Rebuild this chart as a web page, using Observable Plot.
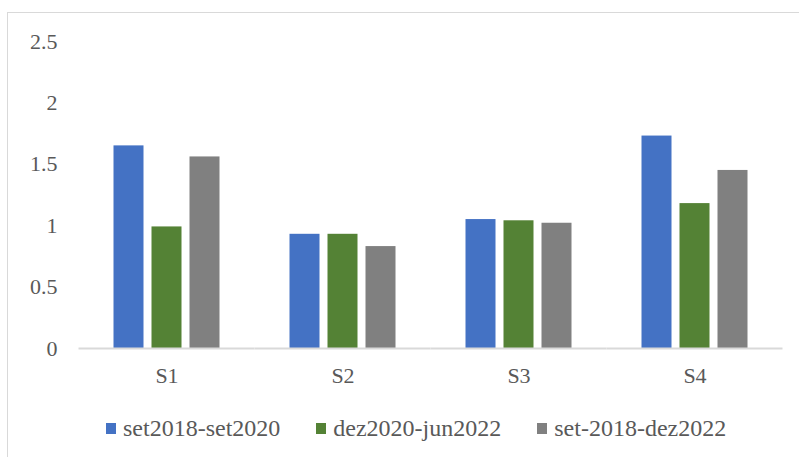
<!DOCTYPE html>
<html>
<head>
<meta charset="utf-8">
<script src="https://cdn.jsdelivr.net/npm/d3@7"></script>
<script src="https://cdn.jsdelivr.net/npm/@observablehq/plot@0.6"></script>
<style>
  html, body { margin: 0; padding: 0; background: #fff; overflow: hidden; width: 799px; height: 457px; }
  #frame { position: absolute; left: 7px; top: 12px; width: 900px; height: 600px; border: 1.5px solid #d9d9d9; box-sizing: border-box; }
  #chart { position: absolute; left: 0; top: 0; }
  #legend { position: absolute; left: 106px; top: 415px; display: flex; align-items: center; gap: 36px;
            font-family: "Liberation Serif", serif; font-size: 24px; color: #595959; line-height: 26px; white-space: nowrap; }
  .item { display: flex; align-items: center; }
  .sw { width: 10px; height: 11px; margin-right: 7px; display: inline-block; }
</style>
</head>
<body>
<div id="frame"></div>
<div id="chart"></div>
<div id="legend"></div>
<script>
const categories = ["S1", "S2", "S3", "S4"];
const seriesNames = ["set2018-set2020", "dez2020-jun2022", "set-2018-dez2022"];
const seriesColors = ["#4472C4", "#548235", "#808080"];
const set2018_set2020 = [1.65, 0.93, 1.05, 1.73];
const dez2020_jun2022 = [0.99, 0.93, 1.04, 1.18];
const set2018_dez2022 = [1.56, 0.83, 1.02, 1.45];
const yTicks = [0, 0.5, 1, 1.5, 2, 2.5];

const seriesValues = [set2018_set2020, dez2020_jun2022, set2018_dez2022];
const data = categories.flatMap((c, i) =>
  seriesNames.map((s, j) => ({cat: c, series: s, value: seriesValues[j][i]})));

const chart = Plot.plot({
  width: 799,
  height: 400,
  marginTop: 41,
  marginBottom: 52,
  marginLeft: 78.5,
  marginRight: 16.5,
  style: {fontFamily: "'Liberation Serif', serif", fontSize: "22px", color: "#595959", background: "transparent", overflow: "visible"},
  facet: {data, x: "cat"},
  fx: {domain: categories, paddingInner: 0.38, paddingOuter: 0.19, label: null, axis: "bottom", tickSize: 0, tickPadding: 19},
  x: {domain: seriesNames, paddingInner: 0.205, paddingOuter: 0, axis: null},
  y: {domain: [0, 2.5], ticks: yTicks, tickSize: 0, tickPadding: 55, label: null, tickFormat: d => String(d)},
  color: {domain: seriesNames, range: seriesColors},
  marks: [
    Plot.barY(data, {x: "series", y: "value", fill: "series"}),
    Plot.ruleY([0], {stroke: "#d9d9d9", strokeWidth: 2, insetLeft: -33.5, insetRight: -33.5})
  ]
});
document.getElementById("chart").appendChild(chart);

const legend = document.getElementById("legend");
seriesNames.forEach((s, j) => {
  const item = document.createElement("div");
  item.className = "item";
  const sw = document.createElement("span");
  sw.className = "sw";
  sw.style.background = seriesColors[j];
  const t = document.createElement("span");
  t.textContent = s;
  item.appendChild(sw);
  item.appendChild(t);
  legend.appendChild(item);
});
</script>
</body>
</html>
